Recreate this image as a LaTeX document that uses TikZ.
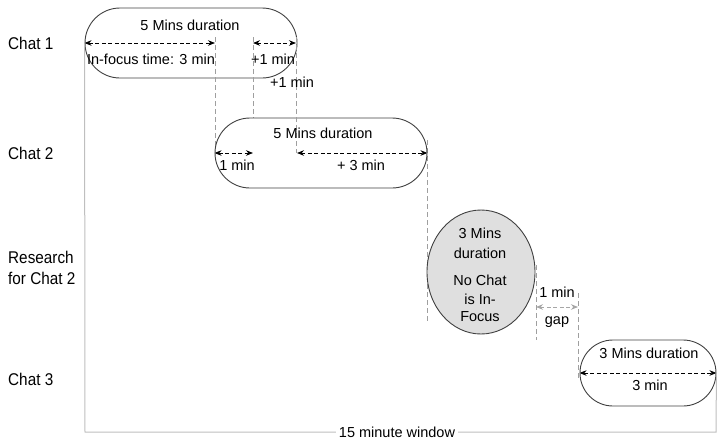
\documentclass[tikz,border=0pt]{standalone}
\usepackage{fontspec}
\setmainfont{Liberation Sans}
\newfontfamily\condfont{Liberation Sans}[FakeStretch=0.9]
\usetikzlibrary{arrows.meta,shapes.misc,shapes.geometric}
\tikzset{
  pill/.style={draw=black!75, line width=0.9pt, rounded rectangle, inner sep=0pt, minimum height=70pt},
  dimarrow/.style={dash pattern=on 4pt off 2.5pt, line width=0.9pt, {Stealth[length=7pt,width=5.5pt]}-{Stealth[length=7pt,width=5.5pt]}},
  gapstyle/.style={draw=gray!70, dash pattern=on 4pt off 2.5pt, line width=0.9pt, {Stealth[length=7pt,width=5.5pt]}-{Stealth[length=7pt,width=5.5pt]}},
  guide/.style={draw=gray!75, dash pattern=on 5pt off 3pt, line width=0.7pt},
  lbl/.style={font=\fontsize{14.5}{16}\selectfont, inner sep=0pt},
  rowlbl/.style={font=\condfont\fontsize{17}{20}\selectfont, anchor=west, inner sep=0pt},
  window/.style={draw=gray!50, line width=1pt}
}
\begin{document}
\begin{tikzpicture}[x=1pt,y=-1pt]
\useasboundingbox (0,0) rectangle (718,440);
% row labels
\node[rowlbl] (l1) at (8,43) {Chat 1};
\node[rowlbl] (l2) at (8,153) {Chat 2};
\node[rowlbl] (l3) at (8,257.5) {Research};
\node[rowlbl] (l4) at (8,278) {for Chat 2};
\node[rowlbl] (l5) at (8,379) {Chat 3};
% window bracket
\node[pill, minimum width=212pt] (c1) at (191,43) {};
\node[pill, minimum width=136pt, minimum height=66pt] (c3) at (648,373) {};
\coordinate (w1) at (85,432);
\coordinate (w2) at (716,432);
\draw[window] (c1.west) -- (w1) -- (w2) -- (c3.east);
\node[lbl, fill=white, inner xsep=3pt, inner ysep=1pt] (wl) at (397,432) {15 minute window};
% guides
\coordinate (t1) at (215,37); \coordinate (u1) at (215,153);
\coordinate (t2) at (253,37); \coordinate (u2) at (253,153);
\coordinate (t3) at (296,37); \coordinate (u3) at (296,153);
\coordinate (t4) at (427,140); \coordinate (u4) at (427,322);
\coordinate (t5) at (536,265); \coordinate (u5) at (536,340);
\coordinate (t6) at (578,293); \coordinate (u6) at (578,378);
\draw[guide] (t1) -- (u1);
\draw[guide] (t2) -- (u2);
\draw[guide] (t4) -- (u4);
\draw[guide] (t5) -- (u5);
\draw[guide] (t6) -- (u6);
% chat 2 and research
\node[pill, minimum width=212pt, fill=white] (c2) at (321,153) {};
\draw[guide] (t3) -- (u3);
\node[ellipse, draw=black!75, line width=0.9pt, fill=gray!25, minimum width=108pt, minimum height=124pt, inner sep=0pt] (r) at (481,272) {};
% chat 1 content
\node[lbl] (c1t) at (190,25) {5 Mins duration};
\coordinate (a1) at (215,43);
\coordinate (a2) at (253,43);
\coordinate (a3) at (296,43);
\draw[dimarrow] (c1.west) -- (a1);
\draw[dimarrow] (a2) -- (a3);
\node[lbl] (c1a) at (151,59) {In-focus time: 3 min};
\node[lbl] (c1b) at (273,59) {+1 min};
\node[lbl] (c1c) at (292,82) {+1 min};
% chat 2 content
\node[lbl] (c2t) at (323,133) {5 Mins duration};
\coordinate (b1) at (253,153);
\coordinate (b2) at (297,153);
\draw[dimarrow] (c2.west) -- (b1);
\draw[dimarrow] (b2) -- (c2.east);
\node[lbl] (c2a) at (237,165) {1 min};
\node[lbl] (c2b) at (361,165) {+ 3 min};
% research content
\node[lbl] (r1) at (480,233) {3 Mins};
\node[lbl] (r2) at (480,253) {duration};
\node[lbl] (r3) at (480,280) {No Chat};
\node[lbl] (r4) at (480,299) {is In-};
\node[lbl] (r5) at (480,317) {Focus};
% gap
\coordinate (g1) at (536,307);
\coordinate (g2) at (578,307);
\draw[gapstyle] (g1) -- (g2);
\node[lbl] (ga) at (557,292) {1 min};
\node[lbl] (gb) at (557,322) {gap};
% chat 3 content
\node[lbl] (c3t) at (649,353) {3 Mins duration};
\draw[dimarrow] (c3.west) -- (c3.east);
\node[lbl] (c3a) at (650,385) {3 min};
\end{tikzpicture}
\end{document}
